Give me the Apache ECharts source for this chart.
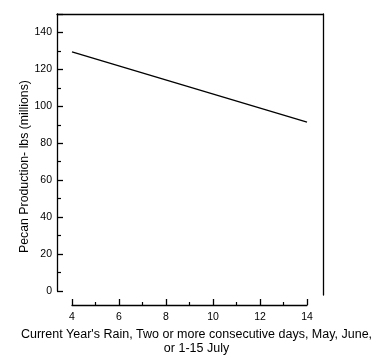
<!DOCTYPE html>
<html><head><meta charset="utf-8">
<script src="https://cdn.jsdelivr.net/npm/echarts@6/dist/echarts.min.js"></script>
<style>html,body{margin:0;padding:0;background:#fff}#c{width:392px;height:361px}</style>
</head><body><div id="c"></div>
<script>
const rainDays = [4, 14];
const production = [129.5, 91.5];
const xTicks = [4, 6, 8, 10, 12, 14];
const yTicks = [0, 20, 40, 60, 80, 100, 120, 140];
const xName = "Current Year's Rain, Two or more consecutive days, May, June,\nor 1-15 July";
const yName = "Pecan Production- lbs (millions)";

const font = 'Liberation Sans';
const black = '#000';
const chart = echarts.init(document.getElementById('c'), null, {renderer: 'canvas'});
chart.setOption({
  animation: false,
  backgroundColor: '#fff',
  grid: [
    {left: 72, right: 85, top: 14, bottom: 68},
    {left: 57, right: 69, top: 14, bottom: 66}
  ],
  xAxis: [{
    type: 'value', gridIndex: 0, min: xTicks[0], max: xTicks[xTicks.length - 1], interval: 2,
    offset: 14,
    axisLine: {onZero: false, lineStyle: {color: black, width: 1.3}},
    axisTick: {inside: true, length: 6, lineStyle: {color: black, width: 1.3}},
    minorTick: {show: true, splitNumber: 2, length: 3, lineStyle: {color: black, width: 1.2}},
    splitLine: {show: false},
    axisLabel: {color: black, fontFamily: font, fontSize: 10.5, margin: 7},
    name: xName, nameLocation: 'middle', nameGap: 23, nameMoveOverlap: false,
    nameTextStyle: {color: black, fontFamily: font, fontSize: 12.5, lineHeight: 14, align: 'center', padding: [0, 0, 0, 14]}
  }, {
    type: 'value', gridIndex: 1, position: 'top', min: 0, max: 1,
    axisLine: {onZero: false, lineStyle: {color: black, width: 1.3}},
    axisTick: {show: false}, axisLabel: {show: false}, splitLine: {show: false}
  }],
  yAxis: [{
    type: 'value', gridIndex: 0, min: 0, max: 150, interval: 20,
    offset: 15,
    axisLine: {onZero: false, lineStyle: {color: black, width: 1.3}},
    axisTick: {inside: true, length: 6, lineStyle: {color: black, width: 1.3}},
    minorTick: {show: true, splitNumber: 2, length: 4, lineStyle: {color: black, width: 1.2}},
    splitLine: {show: false},
    axisLabel: {color: black, fontFamily: font, fontSize: 10.5, margin: 5,
      formatter: v => yTicks.indexOf(v) >= 0 ? String(v) : ''},
    name: yName, nameLocation: 'middle', nameGap: 26, nameMoveOverlap: false,
    nameTextStyle: {color: black, fontFamily: font, fontSize: 12.3, padding: [0, 28, 0, 0]}
  }, {
    type: 'value', gridIndex: 1, position: 'right', min: 0, max: 1,
    axisLine: {onZero: false, lineStyle: {color: black, width: 1.3}},
    axisTick: {show: false}, axisLabel: {show: false}, splitLine: {show: false}
  }],
  series: [{
    type: 'line', xAxisIndex: 0, yAxisIndex: 0,
    data: rainDays.map((x, i) => [x, production[i]]),
    symbol: 'none',
    lineStyle: {color: black, width: 1.3}
  }]
});
</script></body></html>
